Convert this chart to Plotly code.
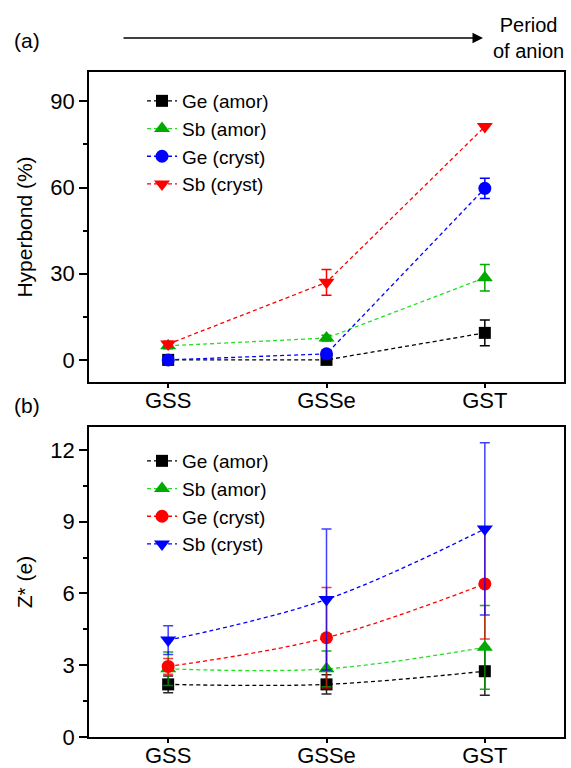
import plotly.graph_objects as go

categories = ["GSS", "GSSe", "GST"]

# Panel (a): Hyperbond (%)
a_ge_amor = [0.0, 0.0, 9.4]
a_ge_amor_err = [1.0, 0.5, 4.5]
a_sb_amor = [4.9, 7.6, 28.6]
a_sb_amor_err = [1.0, 1.0, 4.6]
a_ge_cryst = [0.0, 2.1, 59.7]
a_ge_cryst_err = [1.0, 1.0, 3.5]
a_sb_cryst = [5.5, 27.0, 81.2]
a_sb_cryst_err = [1.0, 4.5, 0.0]

# Panel (b): Z* (e)
b_ge_amor = [2.2, 2.2, 2.75]
b_ge_amor_err = [0.35, 0.4, 1.0]
b_sb_amor = [2.85, 2.85, 3.75]
b_sb_amor_err = [0.7, 0.75, 1.75]
b_ge_cryst = [2.95, 4.15, 6.4]
b_ge_cryst_err = [0.33, 2.1, 2.3]
b_sb_cryst = [4.05, 5.75, 8.7]
b_sb_cryst_err = [0.6, 2.95, 3.6]

FONT = "Liberation Sans, Arial, sans-serif"

styles_a = [
    dict(name="Ge (amor)", y=a_ge_amor, e=a_ge_amor_err, line="#000000", mk="#000000", sym="square", size=12, ecol="#000000"),
    dict(name="Sb (amor)", y=a_sb_amor, e=a_sb_amor_err, line="#22e022", mk="#00aa00", sym="triangle-up", size=14, ecol="#00aa00"),
    dict(name="Ge (cryst)", y=a_ge_cryst, e=a_ge_cryst_err, line="#0000ff", mk="#0000ff", sym="circle", size=13, ecol="#0000ff"),
    dict(name="Sb (cryst)", y=a_sb_cryst, e=a_sb_cryst_err, line="#ff0000", mk="#ff0000", sym="triangle-down", size=14, ecol="#ff0000"),
]
styles_b = [
    dict(name="Ge (amor)", y=b_ge_amor, e=b_ge_amor_err, line="#000000", mk="#000000", sym="square", size=12, ecol="rgba(0,0,0,0.85)"),
    dict(name="Sb (amor)", y=b_sb_amor, e=b_sb_amor_err, line="#22e022", mk="#00aa00", sym="triangle-up", size=14, ecol="rgba(0,150,0,0.85)"),
    dict(name="Ge (cryst)", y=b_ge_cryst, e=b_ge_cryst_err, line="#ff0000", mk="#ff0000", sym="circle", size=13, ecol="rgba(230,0,0,0.75)"),
    dict(name="Sb (cryst)", y=b_sb_cryst, e=b_sb_cryst_err, line="#0000ff", mk="#0000ff", sym="triangle-down", size=14, ecol="rgba(0,0,255,0.75)"),
]

fig = go.Figure()

for s in styles_a:
    fig.add_trace(go.Scatter(
        x=categories, y=s["y"], name=s["name"], mode="lines+markers",
        line=dict(color=s["line"], width=1.3, dash="4px,3px"),
        marker=dict(color=s["mk"], symbol=s["sym"], size=s["size"], line=dict(width=0)),
        error_y=dict(type="data", array=s["e"], color=s["ecol"], thickness=1.5, width=5),
        xaxis="x", yaxis="y", legend="legend",
    ))

for s in styles_b:
    fig.add_trace(go.Scatter(
        x=categories, y=s["y"], name=s["name"], mode="lines+markers",
        line=dict(color=s["line"], width=1.3, dash="4px,3px", shape="spline"),
        marker=dict(color=s["mk"], symbol=s["sym"], size=s["size"], line=dict(width=0)),
        error_y=dict(type="data", array=s["e"], color=s["ecol"], thickness=1.5, width=5),
        xaxis="x2", yaxis="y2", legend="legend2",
    ))

W, H = 571, 768
xdom = [89 / W, 564 / W]
ydom_a = [1 - 382 / H, 1 - 72 / H]
ydom_b = [1 - 737 / H, 1 - 427 / H]

axis_common = dict(showline=True, linecolor="black", linewidth=1.5, mirror=True,
                   ticks="outside", tickwidth=1.5, tickcolor="black",
                   showgrid=False, zeroline=False, automargin=False,
                   tickfont=dict(family=FONT, size=22, color="black"))

leg_common = dict(font=dict(family=FONT, size=19, color="black"),
                  bgcolor="rgba(0,0,0,0)", borderwidth=0,
                  xanchor="left", yanchor="top", itemwidth=30, tracegroupgap=0)

fig.update_layout(
    width=W, height=H,
    margin=dict(l=0, r=0, t=0, b=0, autoexpand=False),
    paper_bgcolor="white", plot_bgcolor="white",
    font=dict(family=FONT, color="black"),
    xaxis=dict(domain=xdom, anchor="y", type="category", range=[-0.5, 2.5], ticklen=4,
               ticklabelstandoff=-6, **axis_common),
    yaxis=dict(domain=ydom_a, anchor="x", range=[-7.7, 100.2], tickvals=[0, 30, 60, 90], ticklen=8,
               minor=dict(dtick=15, ticklen=4, tickwidth=1.5, tickcolor="black", ticks="outside"),
               title=dict(text="Hyperbond (%)", font=dict(family=FONT, size=21), standoff=12),
               **axis_common),
    xaxis2=dict(domain=xdom, anchor="y2", type="category", range=[-0.5, 2.5], ticklen=4,
                ticklabelstandoff=-6, **axis_common),
    yaxis2=dict(domain=ydom_b, anchor="x2", range=[0, 12.96], tickvals=[0, 3, 6, 9, 12], ticklen=8,
                minor=dict(dtick=1.5, ticklen=4, tickwidth=1.5, tickcolor="black", ticks="outside"),
                title=dict(text="Z* (e)", font=dict(family=FONT, size=21), standoff=12),
                **axis_common),
    legend=dict(x=142 / W, y=1 - 82 / H, **leg_common),
    legend2=dict(x=142 / W, y=1 - 442 / H, **leg_common),
    showlegend=True,
)

fig.add_annotation(xref="paper", yref="paper", x=483 / W, y=1 - 38 / H, ax=-361, ay=0,
                   axref="pixel", ayref="pixel", text="", showarrow=True,
                   arrowhead=2, arrowsize=1.4, arrowwidth=1.5, arrowcolor="black")
fig.add_annotation(xref="paper", yref="paper", x=528 / W, y=1 - 38 / H, text="Period<br>of anion",
                   showarrow=False, font=dict(family=FONT, size=20, color="black"),
                   xanchor="center", yanchor="middle", align="center")
fig.add_annotation(xref="paper", yref="paper", x=12 / W, y=1 - 40 / H, text="(a)",
                   showarrow=False, font=dict(family=FONT, size=21, color="black"),
                   xanchor="left", yanchor="middle")
fig.add_annotation(xref="paper", yref="paper", x=12 / W, y=1 - 405 / H, text="(b)",
                   showarrow=False, font=dict(family=FONT, size=21, color="black"),
                   xanchor="left", yanchor="middle")

fig.write_html("out.html", config=dict(displayModeBar=False),
               post_script="document.body.style.margin='0px';document.body.style.overflow='hidden';")
